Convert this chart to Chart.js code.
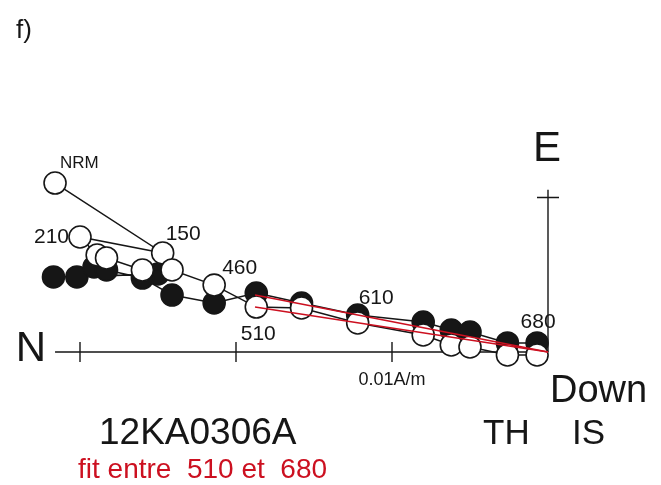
<!DOCTYPE html>
<html>
<head>
<meta charset="utf-8">
<script src="https://cdn.jsdelivr.net/npm/chart.js@4"></script>
<style>
  html, body { margin: 0; padding: 0; background: #fff; }
  #wrap { width: 661px; height: 485px; position: relative; }
</style>
</head>
<body>
<div id="wrap"><canvas id="zij" width="661" height="485"></canvas></div>
<script>
// demagnetisation steps (only some are labelled on the plot)
const stepLabels = ['NRM', '150', '210', '', '', '', '', '460', '510', '', '610', '', '', '', '', '680'];

// N component (A/m), shared by both projections
const northValues = [0.0316, 0.0247, 0.0300, 0.0289, 0.0283, 0.0260, 0.0241, 0.0214, 0.0187, 0.0158, 0.0122, 0.0080, 0.0062, 0.0050, 0.0026, 0.0007];
const filledNorth = [0.0317, 0.0250, 0.0302, 0.0291, 0.0283, 0.0260, 0.0241, 0.0214, 0.0187, 0.0158, 0.0122, 0.0080, 0.0062, 0.0050, 0.0026, 0.0007];
// horizontal projection (E) - filled symbols
const eastValues = [0.00481, 0.00500, 0.00481, 0.00545, 0.00526, 0.00474, 0.00365, 0.00314, 0.00378, 0.00314, 0.00237, 0.00192, 0.00141, 0.00128, 0.00058, 0.00058];
// vertical projection (Up) - open symbols
const upValues = [0.01083, 0.00635, 0.00737, 0.00622, 0.00603, 0.00526, 0.00526, 0.00429, 0.00288, 0.00282, 0.00186, 0.00109, 0.00045, 0.00032, -0.00019, -0.00019];

// PCA fits between 510 and 680, anchored to origin
const fitNorth = [0.01878, 0];
const fitEast = [0.00365, 0];
const fitUp = [0.00288, 0];

const axisTicks = [0.01, 0.02, 0.03];
const axisLengthN = 0.0316;
const axisLengthE = 0.0104;

const INK = '#161616';
const RED = '#cc1020';
const FONT = '"Liberation Sans", Arial, sans-serif';

function pts(xs, ys) {
    return xs.map((x, i) => ({ x: x, y: ys[i] }));
}

// axes + text drawn from the scales
const zijPlugin = {
    id: 'zijAxes',
    beforeDatasetsDraw(chart) {
        const { ctx, scales } = chart;
        const sx = scales.x, sy = scales.y;
        const ox = sx.getPixelForValue(0), oy = sy.getPixelForValue(0);
        ctx.save();
        ctx.strokeStyle = INK;
        ctx.lineWidth = 1.4;
        ctx.beginPath();
        ctx.moveTo(sx.getPixelForValue(axisLengthN), oy);
        ctx.lineTo(ox, oy);
        ctx.moveTo(ox, oy);
        ctx.lineTo(ox, sy.getPixelForValue(axisLengthE));
        axisTicks.forEach(t => {
            const px = sx.getPixelForValue(t);
            ctx.moveTo(px, oy - 10);
            ctx.lineTo(px, oy + 10);
        });
        const ey = sy.getPixelForValue(0.0099);
        ctx.moveTo(ox - 11, ey);
        ctx.lineTo(ox + 11, ey);
        ctx.stroke();
        ctx.restore();
    },
    afterDatasetsDraw(chart) {
        const { ctx, scales } = chart;
        const sx = scales.x, sy = scales.y;
        const ox = sx.getPixelForValue(0), oy = sy.getPixelForValue(0);
        ctx.save();
        ctx.fillStyle = INK;
        ctx.textBaseline = 'middle';

        // step labels next to open symbols
        const place = {
            'NRM': [5, -20, 'left', 17],
            '210': [-11, 0, 'right', 21],
            '150': [3, -19, 'left', 21],
            '460': [8, -17, 'left', 21],
            '510': [2, 27, 'center', 21],
            '610': [1, -25, 'left', 21],
            '680': [1, -33, 'center', 21]
        };
        stepLabels.forEach((lab, i) => {
            if (!lab) return;
            const p = place[lab];
            const px = sx.getPixelForValue(northValues[i]);
            const py = sy.getPixelForValue(upValues[i]);
            ctx.font = p[3] + 'px ' + FONT;
            ctx.textAlign = p[2];
            ctx.fillText(lab, px + p[0], py + p[1]);
        });

        ctx.textAlign = 'center';
        ctx.font = '18px ' + FONT;
        ctx.fillText('0.01A/m', sx.getPixelForValue(0.01), oy + 28);
        ctx.font = '42px ' + FONT;
        ctx.fillText('N', ox - 517, oy - 3);
        ctx.fillText('E', ox - 1, oy - 203);
        ctx.textAlign = 'left';
        ctx.font = '38px ' + FONT;
        ctx.fillText('Down', ox + 2, oy + 40);
        ctx.font = '35px ' + FONT;
        ctx.fillText('TH', ox - 65, oy + 82);
        ctx.fillText('IS', ox + 24, oy + 82);
        ctx.font = '37px ' + FONT;
        ctx.fillText('12KA0306A', 99, oy + 82);
        ctx.font = '26px ' + FONT;
        ctx.fillText('f)', 16, 31);
        ctx.fillStyle = RED;
        ctx.font = '28px ' + FONT;
        ctx.fillText('fit entre  510 et  680', 78, oy + 118);
        ctx.restore();
    }
};

const ctx = document.getElementById('zij').getContext('2d');
new Chart(ctx, {
    type: 'scatter',
    data: {
        datasets: [
            {
                label: 'fit E',
                data: pts(fitNorth, fitEast),
                showLine: true,
                borderColor: RED,
                borderWidth: 1.6,
                pointRadius: 0,
                order: 0
            },
            {
                label: 'fit Up',
                data: pts(fitNorth, fitUp),
                showLine: true,
                borderColor: RED,
                borderWidth: 1.6,
                pointRadius: 0,
                order: 0
            },
            {
                label: 'vertical',
                data: pts(northValues, upValues),
                showLine: true,
                borderColor: INK,
                borderWidth: 1.5,
                pointRadius: 11,
                pointBorderWidth: 1.6,
                pointBackgroundColor: '#ffffff',
                pointBorderColor: INK,
                order: 1
            },
            {
                label: 'horizontal',
                data: pts(filledNorth, eastValues),
                showLine: true,
                borderColor: INK,
                borderWidth: 1.5,
                pointRadius: 11,
                pointBorderWidth: 1.6,
                pointBackgroundColor: INK,
                pointBorderColor: INK,
                order: 2
            }
        ]
    },
    options: {
        responsive: false,
        animation: false,
        events: [],
        layout: { padding: 0, autoPadding: false },
        plugins: { legend: { display: false }, tooltip: { enabled: false } },
        scales: {
            x: { type: 'linear', display: false, reverse: true, min: -113 / 15600, max: 548 / 15600 },
            y: { type: 'linear', display: false, min: -133 / 15600, max: 352 / 15600 }
        }
    },
    plugins: [zijPlugin]
});
</script>
</body>
</html>
